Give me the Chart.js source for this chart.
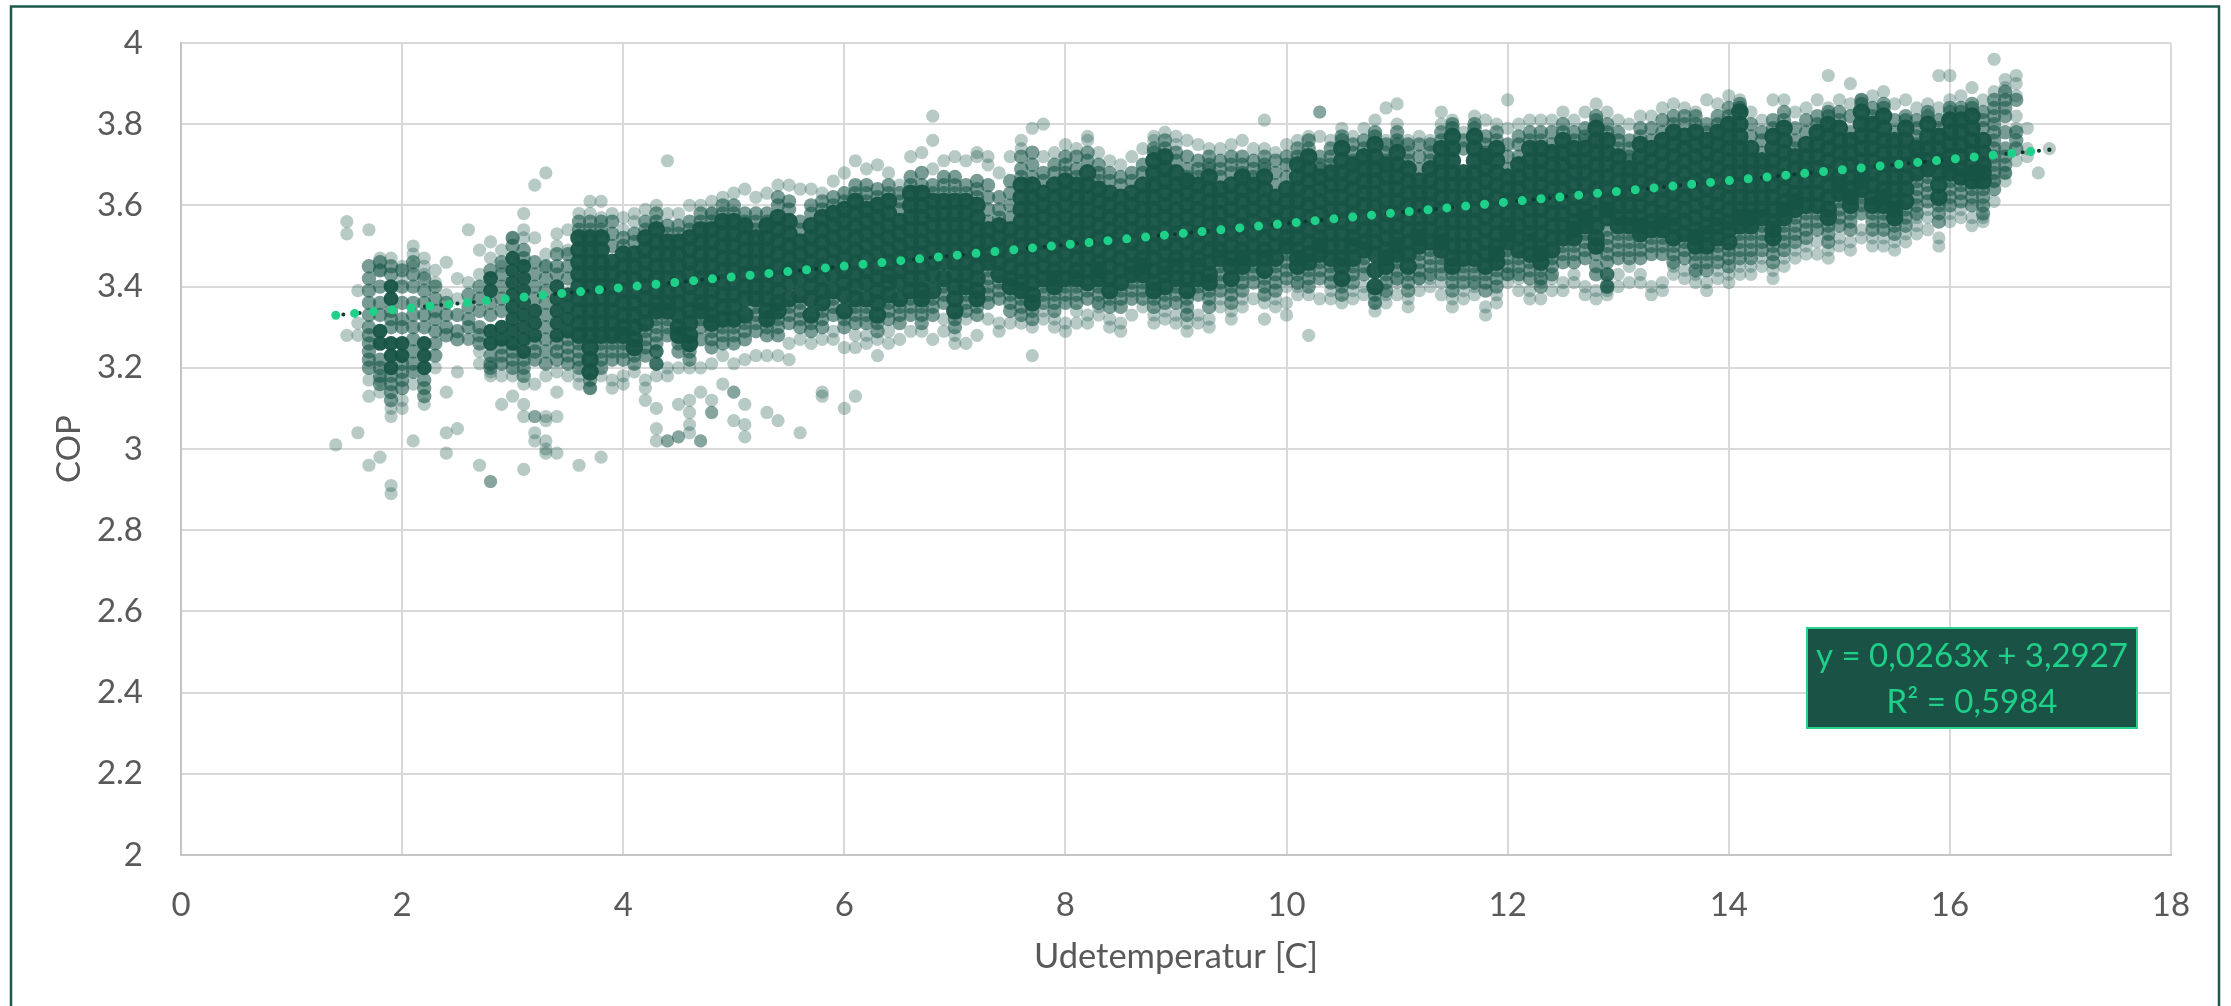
<!DOCTYPE html>
<html><head><meta charset="utf-8">
<style>html,body{margin:0;padding:0;background:#fff}canvas{display:block}</style>
<script src="https://cdn.jsdelivr.net/npm/chart.js@4"></script></head>
<body><canvas id="c" width="2231" height="1006"></canvas>
<script>
const xTitle="Udetemperatur [C]", yTitle="COP";
const trendLabel=["y = 0,0263x + 3,2927","R² = 0,5984"];
const trendX=[1.4,16.9], trendY=[3.3295,3.7372];
const tempC=[1.4,1.5,1.6,1.7,1.8,1.9,
2,2.1,2.2,2.3,2.4,2.5,2.6,2.7,2.8,2.9,3,3.1,3.2,3.3,3.4,3.5,3.6,3.7,3.8,3.9,
4,4.1,4.2,4.3,4.4,4.5,4.6,4.7,4.8,4.9,5,5.1,5.2,5.3,5.4,5.5,5.6,5.7,5.8,5.9,
6,6.1,6.2,6.3,6.4,6.5,6.6,6.7,6.8,6.9,7,7.1,7.2,7.3,7.4,7.5,7.6,7.7,7.8,7.9,
8,8.1,8.2,8.3,8.4,8.5,8.6,8.7,8.8,8.9,9,9.1,9.2,9.3,9.4,9.5,9.6,9.7,9.8,9.9,
10,10.1,10.2,10.3,10.4,10.5,10.6,10.7,10.8,10.9,11,11.1,11.2,11.3,11.4,11.5,11.6,11.7,11.8,11.9,
12,12.1,12.2,12.3,12.4,12.5,12.6,12.7,12.8,12.9,13,13.1,13.2,13.3,13.4,13.5,13.6,13.7,13.8,13.9,
14,14.1,14.2,14.3,14.4,14.5,14.6,14.7,14.8,14.9,15,15.1,15.2,15.3,15.4,15.5,15.6,15.7,15.8,15.9,
16,16.1,16.2,16.3,16.4,16.5,16.6,16.7,16.8,16.9];
// COP readings in hundredths, one row per temperature column above.
const copCore=[
[],[],[],[],[329,326],[340,337,326,323,320],
[326,323],[],[326,323,320],[],[],[],[],[],[342,339,329,326],[330,327],
[347,344,341,338,335,332,329,326],[345,342,339,336,333,330,327,324],[334,331,328],[],[340,337,334,331,328],[338,335,332,329],[352,349,346,343,340,337,334,331,328],[352,349,346,343,340,337,334,331,328,325,322,319],[352,349,346,343,340,337,334,331,328],[346,343,340,337,334,331,328],
[348,345,342,339,336,333,330,328],[348,345,342,339,336,333,330,327,325],[352,349,346,343,340,337,334,331],[354,351,348,345,342,339,336,334],[351,348,345,342,339,336,334],[351,348,345,342,339,336,333,330,328],[352,349,346,343,340,337,334,331,328,326],[354,351,348,345,342,339,336,334],[354,351,348,345,342,339,336,333,331],[356,353,350,347,344,341,338,335,332],
[356,353,350,347,344,341,338,335,332],[355,352,349,346,343,340,337,333],[352,349,346,343,340,337],[355,352,349,346,343,340,337,334,332],[357,354,351,348,345,342,339,336,334],[356,353,350,347,344,341,337],[351,348,345,342,338],[355,352,349,346,343,340,337,333],[357,354,351,348,345,342,339,336],[358,355,352,349,346,343,339],
[359,356,353,350,347,344,341,338,334],[361,358,355,352,349,346,343,340,337],[359,356,353,350,347,344,341,337],[360,357,354,351,348,345,342,339,336,333],[361,358,355,352,349,346,343,341,338],[356,353,350,347,344,341,337],[363,360,357,354,351,348,345,342,339],[363,360,357,354,351,348,345,342,339,337],[361,358,355,352,349,346,343,339],[361,358,355,352,349,346,342],
[361,358,355,352,349,346,343,340,337,334],[361,358,355,352,349,346,343,340],[360,357,354,351,348,345,342,339,337],[354,351,348,346],[355,352,349,346,343],[354,351,348,345,342,340],[365,362,359,356,353,350,347,344,341,339],[365,362,359,356,353,350,347,344,341,338,336],[363,360,357,354,351,348,345,342],[365,362,359,356,353,350,347,344,342,340],
[366,363,360,357,354,351,348,345,342],[365,362,359,356,353,350,347,344,342],[368,365,362,359,356,353,350,347,344,341],[364,361,358,355,352,349,346,344,342],[363,360,357,354,351,348,345,342,339],[362,359,356,353,350,347,344,341],[363,360,357,354,351,348,345,343],[365,362,359,356,353,350,347,345,343],[371,368,365,362,359,356,353,350,347,344,341,339],[372,369,366,363,360,357,354,351,348,345,343,340],
[368,365,362,359,356,353,350,347,345,342],[366,363,360,357,354,351,348,345,342,339],[365,362,359,356,353,350,347,345,342],[367,364,361,358,355,352,349,346,343,341],[364,361,358,355,352,349,347],[365,362,359,356,353,350,347,345,342],[367,364,361,358,355,352,349,347,345],[365,362,359,356,353,350,347],[367,364,361,358,355,352,349,347,344],[362,359,356,353,350,347],
[364,361,358,355,352,350],[370,367,364,361,358,355,352,349,347,345],[372,369,366,363,360,357,354,351,348,346],[367,364,361,358,355,352,350,348],[368,365,362,359,356,353,350,347],[374,371,368,365,362,359,356,353,350,347,345,342],[370,367,364,361,358,355,352,350,347],[372,369,366,363,360,357,354,351,349],[375,372,369,366,363,360,357,354,351,348,344,340],[370,367,364,361,358,355,352,349,347,345],
[373,370,367,364,361,358,355,352,350,348],[369,366,363,360,357,354,351,348,345],[366,363,360,357,354,352,350],[369,366,363,360,357,354,351],[374,371,368,365,362,359,356,353,351,349],[377,374,371,368,365,362,359,356,353,350,347,345],[368,365,362,359,356,353,350,347],[377,374,371,368,365,362,359,356,353,350,347],[372,369,366,363,360,357,354,351,348,345],[374,371,368,365,362,359,356,353,350,348,346],
[367,364,361,358,355,353,351],[370,367,364,361,358,355,352,349],[374,371,368,365,362,359,356,353,351,348],[374,371,368,365,362,359,356,353,350,348,346],[373,370,367,364,361,358,355,352,349],[376,373,370,367,364,361,358,355,352],[374,371,368,365,362,359,356,354,352],[374,371,368,365,362,359,357,355],[379,376,373,370,367,364,361,358,355,352,350],[376,373,370,367,364,361,359,357],
[372,369,366,363,360,357,355],[369,366,363,360,357,355],[375,372,369,366,363,360,357,355,353],[374,371,368,365,362,359,356,354],[376,373,370,367,364,361,358,356,354],[378,375,372,369,366,363,360,357,355,352],[377,374,371,368,365,362,359,356,353],[378,375,372,369,366,363,360,357,354,352,350],[376,373,370,367,364,361,358,355,353,350],[378,375,372,369,366,363,360,357,355,352],
[380,377,374,371,368,365,362,359,356,354,351],[383,380,377,374,371,368,365,362,359,357,355],[374,371,368,365,362,359,357,355],[371,368,365,362,359,357],[377,374,371,368,365,362,359,356,354,352],[379,376,373,370,367,364,361,359,357],[372,369,366,363,361,359],[375,372,369,366,363,360],[378,375,372,369,366,363,360],[380,377,374,371,368,365,362,359,357],
[379,376,373,370,367,365,363],[376,373,370,367,364,362,360],[383,380,377,374,371,368,366,364],[380,377,374,371,368,365,362,360],[382,379,376,373,370,367,364,362,360],[376,373,370,367,364,361,359,357],[379,376,373,370,367,364,361],[374,371,368],[380,377,374,371,369],[377,374,371,368,365,362],
[381,378,375,372,370,368],[381,378,375,372,369,367],[382,379,376,373,370,368,366],[376,373,370,368,366],[],[],[],[],[],[]];
const copBody=[
[],[],[],[345,342,339,336,333,330,328,326,324,322,320],[346,344,340,336,333,322,320,318,316],[345,343,334,332,330,318,316,314,312],
[344,340,336,332,330,321,319,317,315],[346,343,340,336,333,330,327,324,321,319],[342,339,336,333,330,317,315,313],[340,337,334,332,329,326,323],[336,333,330,328],[333,329,327],[338,335,332,330],[340,337,334,330,328,326],[344,336,333,323,321,320],[346,343,340,337,334,325,323,321],
[352,350,324,322,320],[349,347,322,320,318],[346,343,340,337,326,324,322],[345,342,339,336,333,330,327,324,321],[348,345,343,326,324,322],[348,345,342,327,325,323,321],[356,354,326,324,322,320],[356,354,317,315],[356,354,326,324,322,320],[356,353,350,326,324,322],
[352,350,326,324,322],[353,351,323,321],[356,354,329,327,325,323],[358,356,332,330,328,326,324,324,321,321],[355,353,332,330,328],[355,353,326,324],[356,354,324,322],[358,356,332,330,327],[358,356,329,327,325],[360,358,330,328,326],
[360,358,330,328,326],[358,356,331,329,327],[358,356,354,335,333,331,329],[358,356,330,328],[362,360,332,330,328],[361,359,335,333,331],[356,354,336,334,332,330],[360,358,331,329],[361,359,334,332,330],[362,360,337,335,333],
[363,361,332,330],[365,363,335,333,331],[365,363,361,335,333,331],[364,362,331,329],[365,363,336,334,332],[363,361,359,335,333,331],[367,365,337,335,333],[368,365,335,333,331],[365,363,337,335,333],[367,365,363,340,338,336],
[367,365,363,332,330],[365,363,338,336,334],[366,364,362,335,333],[365,362,359,356,344,342,340,338,336],[362,359,357,341,339,337],[366,363,360,357,338,336,334],[372,369,367,337,335,333],[373,370,367,334,332],[368,366,340,338,336],[370,368,338,336,334],
[372,370,368,340,338,336],[372,369,367,340,338,336],[373,371,339,337],[370,368,366,340,338,336],[368,366,337,335],[367,365,339,337,335],[368,366,341,339,337],[370,368,341,339,337],[374,373,337,335],[376,374,338,336],
[373,371,340,338,336],[372,369,367,337,335,333],[371,369,367,340,338],[372,370,369,339,337,335],[371,369,367,345,343,341,339],[372,370,368,340,338,336],[372,370,368,343,341,339],[371,369,367,345,343,341],[372,370,369,342,340,338],[371,368,365,345,343,341,339],
[372,370,367,348,346,344,342],[374,372,343,341],[376,374,344,342,340],[372,370,369,346,344,342],[374,372,370,345,343,341],[377,376,340,338],[375,373,371,345,343,341],[376,374,347,345,343],[378,377,338,336],[375,373,371,343,341,339],
[378,376,375,346,344,342],[375,373,371,343,341,339],[375,372,369,348,346,344,342],[375,373,371,349,347,345,343],[378,376,347,345,343],[380,379,343,341,339],[376,374,345,343,341],[380,379,345,343,341],[377,375,373,343,341,339],[378,376,344,342,340],
[375,372,369,349,347,345,343],[377,375,372,347,345,343],[378,376,346,344,342],[378,376,344,342,340],[378,375,347,345,343],[380,378,350,348,346],[378,376,350,348,346],[379,377,376,353,351,349,347],[382,381,348,345,343],[380,378,354,352,350,348,346,343,343,340,340],
[378,376,374,353,351,349,347],[376,374,372,371,353,351,349,347],[379,377,351,349,347],[379,376,352,350,348],[381,378,352,350,348],[382,380,350,348,346],[382,380,351,349,347],[382,380,348,346,344],[380,378,348,346,344],[382,380,350,348,346],
[384,382,349,347,345],[385,384,353,351,349,347],[380,377,353,351,349,347],[378,376,373,355,353,351,349],[381,379,350,348,346],[383,381,355,353,351,349],[379,376,374,357,355,353,351],[381,378,358,356,354,352],[382,380,358,356,354],[383,382,355,353,351],
[383,381,361,359,357,355],[382,378,358,356,354],[386,385,362,360,358],[384,382,358,356,354],[385,384,358,356,354],[381,378,355,353],[382,381,359,357,355],[381,379,377,375,366,364,362,360,358],[383,382,367,365,363,361],[381,379,360,358,356],
[384,383,366,364,362,360],[384,383,365,363,361],[385,384,364,362,360],[383,381,379,364,362,360,358],[386,384,382,380,378,376,374,372,370,368,366,364],[388,386,384,382,378,374,372,370,368],[386,378,376,374],[],[],[]];
const copFringe=[
[301],[356,353,328],[339,331,328,304],[354,317,313,296],[347,344,317,314,298],[347,310,308,291,289],
[345,342,312,310],[350,348,345,316,302],[347,345,343,311],[344,341,320],[346,338,314,304,299],[342,337,319,305],[354,341,327,327],[349,343,324,321,296],[351,347,318,319,292,292],[349,345,318,311],
[352,318,313],[358,354,352,316,311,308,295],[365,352,316,308,308,304,302],[368,348,345,318,307,308,302,300,299],[353,350,319,314,308,299],[354,349,318],[358,318,316,296],[361,358,315],[361,357,318,298],[358,317,315],
[357,354,318,316],[358,356,319],[359,317,315,312],[360,318,310,305,302],[371,358,320,318,302,302],[358,320,311,303,303],[360,320,312,309,306,304],[360,320,314,302,302],[361,358,321,312,309,309],[362,323,316],
[363,321,314,314,307],[364,322,311,306,303],[362,323],[363,323,309],[365,323,307],[365,326,322],[364,327,304],[364,326],[363,327,314,313],[366,329,327],
[368,325,310],[371,328,325,313],[369,328,326],[370,327,323],[368,329,326],[365,327],[372,329],[373,329],[382,376,369,327],[371,332,329],
[372,328,326],[371,332,326],[373,372,328],[372,370,332],[368,331,329],[372,331],[376,374,331],[379,330,323],[380,372,334,332],[373,332,330],
[375,331,329],[374,334,331],[377,376,333,331],[373,335,333],[371,332,330],[370,331,329],[372,333],[374,335],[377,376,333,331],[378,334,332],
[377,375,333,331],[376,331,329],[375,333,331],[374,332,330],[374,337,335],[375,334,332],[376,337,335],[374,337],[381,374,336,332],[373,337,335],
[375,340,333,336],[376,340,338],[377,338,328],[383,383,377,337],[376,339,337],[379,336],[377,339,337],[379,340,338],[381,336,334],[384,376,338,336],
[385,380,341,338],[376,337,335],[377,342,339],[376,342,340],[383,380,341,338],[381,337,335],[378,339,337],[382,340,338],[381,335,333],[380,338,336],
[386,379,343,341],[380,342,339],[381,339,337],[381,341,337],[381,342,339],[383,341,339],[381,343,341],[383,340,338],[385,337,339],[383,341,339,338],
[381,343,340],[380,345,341],[382,343,341],[382,340,338],[384,341,339],[385,345,343],[384,344,342],[383,343,341],[386,341,339],[385,344,342],
[387,343,341],[386,345,343],[383,345,343],[381,347,345],[386,344,342],[386,347,345],[383,349,347],[384,350,348],[386,351,348],[392,384,349,347],
[386,352,350],[390,385,351,349],[386,352,354],[387,350,352],[388,352,350],[385,349,351],[386,353,351],[384,357,355,353],[385,359,357,354],[392,384,352,350],
[392,386,358,356],[387,359,357],[389,357,355],[386,357,356],[396,388,366,361],[391,389,368,366],[392,390,387,382,379,371],[379,374,372],[368],[374]];
const toPts=rows=>{const out=[];rows.forEach((r,i)=>r.forEach(v=>out.push({x:tempC[i],y:v/100})));return out;};
const band=(data,alpha,order,radius)=>({type:'scatter',data,order,pointRadius:radius,pointBorderWidth:0,pointHoverRadius:6.6,backgroundColor:`rgba(23,84,70,${alpha})`,showLine:false});
const trendPts=trendX.map((x,i)=>({x,y:trendY[i]}));
const frameAndLabel={id:'frameAndLabel',
 beforeDraw(c){const g=c.ctx;g.save();g.fillStyle='#fff';g.fillRect(0,0,2231,1006);g.strokeStyle='#1a5a4c';g.lineWidth=2.5;
  g.beginPath();g.moveTo(11,1006);g.lineTo(11,6.5);g.lineTo(2219,6.5);g.lineTo(2219,1006);g.stroke();g.restore();},
 afterDraw(c){const g=c.ctx;g.save();g.fillStyle='#1a5346';g.strokeStyle='#27d38d';g.lineWidth=2;
  g.fillRect(1807,628,330,100);g.strokeRect(1807,628,330,100);
  g.fillStyle='#1fd188';g.font='33px Lato';g.textAlign='center';g.textBaseline='middle';
  g.fillText(trendLabel[0],1972,656);g.fillText(trendLabel[1],1972,702);g.restore();}};
Chart.defaults.font.family='Lato';Chart.defaults.color='#595959';
new Chart(document.getElementById('c'),{type:'scatter',plugins:[frameAndLabel],
 data:{datasets:[
  band(toPts(copFringe),0.31,5,6.6),band(toPts(copBody),0.58,4,7.2),band(toPts(copCore),0.96,3,ctx=>ctx.raw&&ctx.raw.x<3.55?7.4:8.8),
  {type:'line',data:trendPts,order:2,parsing:false,borderColor:'#0e3a30',borderWidth:4,borderCapStyle:'round',borderDash:[0,16.38],borderDashOffset:-7.6,pointRadius:[0,2.2],pointBackgroundColor:'#0e3a30',pointBorderWidth:0,fill:false},
  {type:'line',data:trendPts,order:1,parsing:false,borderColor:'#1fd188',borderWidth:9,borderCapStyle:'round',borderDash:[0,18.92],pointRadius:0,fill:false}
 ]},
 options:{responsive:false,animation:false,events:[],
  layout:{padding:{left:50,right:60,top:43,bottom:28}},
  plugins:{legend:{display:false},tooltip:{enabled:false}},
  scales:{
   x:{type:'linear',min:0,max:18,afterFit(s){s.height=123;},
    ticks:{stepSize:2,font:{size:33},padding:31,maxRotation:0},
    grid:{color:'#d9d9d9',lineWidth:2,drawTicks:false},border:{color:'#c4c4c4',width:2},
    title:{display:true,text:xTitle,font:{size:34.5},padding:{top:14,bottom:0}}},
   y:{type:'linear',min:2,max:4,afterFit(s){s.width=131;s.paddingTop=0;s.paddingBottom=0;},
    ticks:{stepSize:0.2,font:{size:33},padding:38,callback:v=>String(Number(v.toFixed(1)))},
    grid:{color:'#d9d9d9',lineWidth:2,drawTicks:false},border:{color:'#c4c4c4',width:2},
    title:{display:true,text:yTitle,font:{size:33},padding:{top:0,bottom:0}}}
  }}});
</script></body></html>
